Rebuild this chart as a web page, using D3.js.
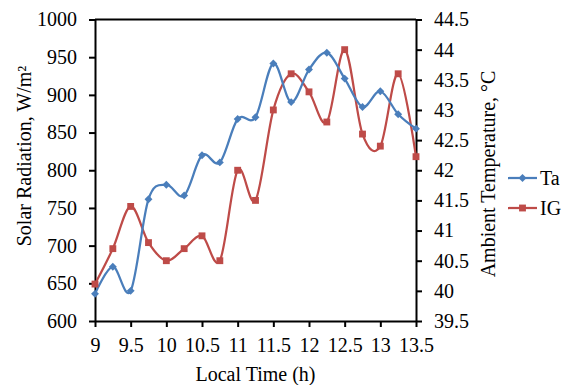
<!DOCTYPE html>
<html>
<head>
<meta charset="utf-8">
<script src="https://cdn.jsdelivr.net/npm/d3@7"></script>
<style>
  body { margin: 0; background: #fff; }
  svg { display: block; }
  text { font-family: "Liberation Serif", Tinos, "Times New Roman", Times, "DejaVu Serif", "Noto Serif", serif; fill: #000; }
</style>
</head>
<body>
<svg id="chart"></svg>
<script>
// local time (h)
const hours = [9, 9.25, 9.5, 9.75, 10, 10.25, 10.5, 10.75, 11, 11.25, 11.5, 11.75, 12, 12.25, 12.5, 12.75, 13, 13.25, 13.5];
// ambient temperature, right axis
const ta = [39.95, 40.4, 40.0, 41.52, 41.76, 41.58, 42.25, 42.13, 42.85, 42.88, 43.77, 43.13, 43.67, 43.95, 43.52, 43.05, 43.31, 42.93, 42.69];
// solar radiation, left axis
const ig = [649, 696, 752, 704, 680, 696, 713, 680, 800, 760, 880, 928, 904, 864, 960, 848, 832, 928, 818];

const xTicks = [9, 9.5, 10, 10.5, 11, 11.5, 12, 12.5, 13, 13.5];
const leftTicks = [600, 650, 700, 750, 800, 850, 900, 950, 1000];
const rightTicks = [39.5, 40, 40.5, 41, 41.5, 42, 42.5, 43, 43.5, 44, 44.5];

const W = 564, H = 385;
const plot = { left: 95, right: 416, top: 19.5, bottom: 321 };
const blue = "#4a7ebb", red = "#be4b48";
const fontSize = "20px";
const serif = '"Liberation Serif", Tinos, "Times New Roman", Times, "DejaVu Serif", "Noto Serif", serif';

const svg = d3.select("#chart").attr("width", W).attr("height", H);

const x = d3.scaleLinear().domain([9, 13.5]).range([plot.left, plot.right]);
const yL = d3.scaleLinear().domain([600, 1000]).range([plot.bottom, plot.top]);
const yR = d3.scaleLinear().domain([39.5, 44.5]).range([plot.bottom, plot.top]);

// top border of plot
svg.append("line")
    .attr("x1", plot.left).attr("x2", plot.right)
    .attr("y1", plot.top).attr("y2", plot.top)
    .attr("stroke", "#000").attr("stroke-width", 2);

function styleAxis(g) {
    g.attr("font-family", null);
    g.selectAll("path.domain").attr("stroke", "#000").attr("stroke-width", 2);
    g.selectAll(".tick line").attr("stroke", "#000").attr("stroke-width", 2);
    g.selectAll("text").style("font-size", fontSize).style("font-family", serif).attr("fill", "#000");
}

svg.append("g")
    .attr("transform", `translate(0,${plot.bottom})`)
    .call(d3.axisBottom(x).tickValues(xTicks).tickFormat(d3.format("")).tickSize(6).tickSizeOuter(0).tickPadding(11))
    .call(styleAxis);

svg.append("g")
    .attr("transform", `translate(${plot.left},0)`)
    .call(d3.axisLeft(yL).tickValues(leftTicks).tickFormat(d3.format("")).tickSize(6).tickSizeOuter(0).tickPadding(12))
    .call(styleAxis);

svg.append("g")
    .attr("transform", `translate(${plot.right},0)`)
    .call(d3.axisRight(yR).tickValues(rightTicks).tickFormat(d3.format("")).tickSize(6).tickSizeOuter(0).tickPadding(12))
    .call(styleAxis);

// axis titles
svg.append("text")
    .attr("transform", "translate(31,156) rotate(-90)")
    .attr("text-anchor", "middle")
    .style("font-size", fontSize).style("font-family", serif)
    .text("Solar Radiation, W/m²");

svg.append("text")
    .attr("transform", "translate(495,174) rotate(-90)")
    .attr("text-anchor", "middle")
    .style("font-size", fontSize).style("font-family", serif)
    .text("Ambient Temperature, °C");

svg.append("text")
    .attr("x", (plot.left + plot.right) / 2).attr("y", 381)
    .attr("text-anchor", "middle")
    .style("font-size", fontSize).style("font-family", serif)
    .text("Local Time (h)");

// series
const lineTa = d3.line().x((d, i) => x(hours[i])).y(d => yR(d)).curve(d3.curveCatmullRom.alpha(0));
const lineIg = d3.line().x((d, i) => x(hours[i])).y(d => yL(d)).curve(d3.curveCatmullRom.alpha(0));

svg.append("path").datum(ig)
    .attr("d", lineIg).attr("fill", "none")
    .attr("stroke", red).attr("stroke-width", 2.25);

svg.append("path").datum(ta)
    .attr("d", lineTa).attr("fill", "none")
    .attr("stroke", blue).attr("stroke-width", 2.25);

const diamond = d3.symbol().type(d3.symbolDiamond2).size(40);
const square = d3.symbol().type(d3.symbolSquare2).size(60);

svg.append("g").selectAll("path")
    .data(ig).enter().append("path")
    .attr("d", square)
    .attr("transform", (d, i) => `translate(${x(hours[i])},${yL(d)})`)
    .attr("fill", red);

svg.append("g").selectAll("path")
    .data(ta).enter().append("path")
    .attr("d", diamond)
    .attr("transform", (d, i) => `translate(${x(hours[i])},${yR(d)})`)
    .attr("fill", blue);

// legend
const legend = [
    { name: "Ta", color: blue, sym: diamond, y: 178 },
    { name: "IG", color: red, sym: square, y: 208 }
];
const lg = svg.append("g").selectAll("g").data(legend).enter().append("g")
    .attr("transform", d => `translate(0,${d.y})`);
lg.append("line").attr("x1", 508).attr("x2", 537).attr("y1", 0).attr("y2", 0)
    .attr("stroke", d => d.color).attr("stroke-width", 2.25);
lg.append("path").attr("d", d => d.sym()).attr("transform", "translate(522.5,0)")
    .attr("fill", d => d.color);
lg.append("text").attr("x", 540).attr("y", 7)
    .style("font-size", fontSize).style("font-family", serif)
    .text(d => d.name);
</script>
</body>
</html>
